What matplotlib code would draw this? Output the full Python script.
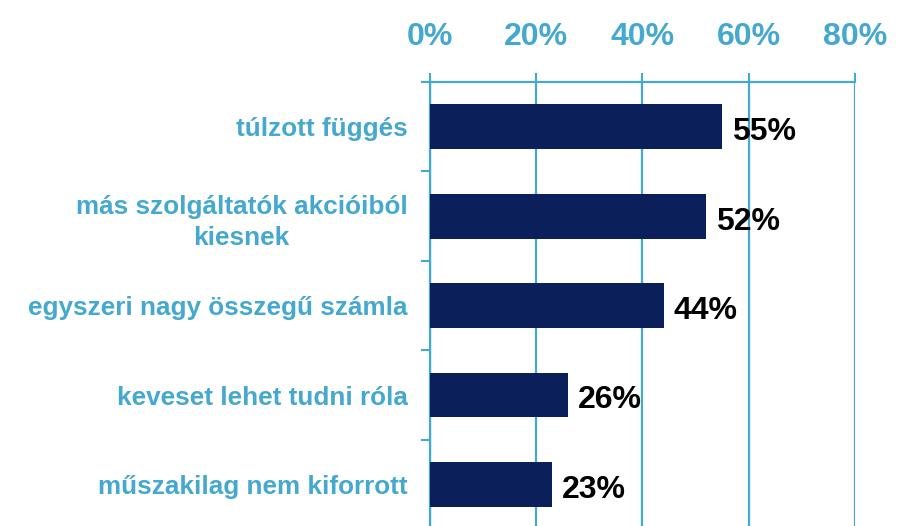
import matplotlib
matplotlib.use('Agg')
import matplotlib.pyplot as plt
import numpy as np

categories = [
    'túlzott függés',
    'más szolgáltatók akcióiból\nkiesnek',
    'egyszeri nagy összegű számla',
    'keveset lehet tudni róla',
    'műszakilag nem kiforrott',
]
values = [55, 52, 44, 26, 23]
xticks = [0, 20, 40, 60, 80]

BLUE = '#45A8CE'
NAVY = '#0B1F5A'

plt.rcParams['font.family'] = ['Liberation Sans', 'DejaVu Sans']

fig = plt.figure(figsize=(9.01, 5.26), dpi=100)
ax = fig.add_axes([0.477, -0.006, 0.472, 0.850])

y = np.arange(len(categories))
ax.barh(y, values, height=0.5, color=NAVY, zorder=3)
for yi, v in zip(y, values):
    ax.text(v + 1.9, yi + 0.06, f'{v}%', va='center', ha='left',
            fontsize=23, fontweight='bold', color='black')

ax.set_ylim(len(categories) - 0.5, -0.5)
ax.set_xlim(0, 80)

ax.xaxis.tick_top()
ax.set_xticks(xticks)
ax.set_xticklabels([f'{t}%' for t in xticks])
ax.tick_params(axis='x', which='major', direction='out', length=6.5, width=1.5,
               color=BLUE, labelcolor=BLUE, labelsize=23, pad=15)
for lab in ax.get_xticklabels():
    lab.set_fontweight('bold')

ax.set_yticks(y)
ax.set_yticklabels(categories, multialignment='center', linespacing=1.4)
ax.set_yticks(np.arange(len(categories)) - 0.5, minor=True)
ax.tick_params(axis='y', which='major', length=0, pad=16,
               labelcolor=BLUE, labelsize=18.8)
ax.tick_params(axis='y', which='minor', direction='out', length=6.5,
               width=1.5, color=BLUE)
for lab in ax.get_yticklabels():
    lab.set_fontweight('bold')

ax.grid(axis='x', color=BLUE, linewidth=1.6, zorder=0)
ax.set_axisbelow(True)
for side in ['right', 'bottom']:
    ax.spines[side].set_visible(False)
for side in ['top', 'left']:
    ax.spines[side].set_color(BLUE)
    ax.spines[side].set_linewidth(1.6)

fig.savefig('out.png', dpi=100)
